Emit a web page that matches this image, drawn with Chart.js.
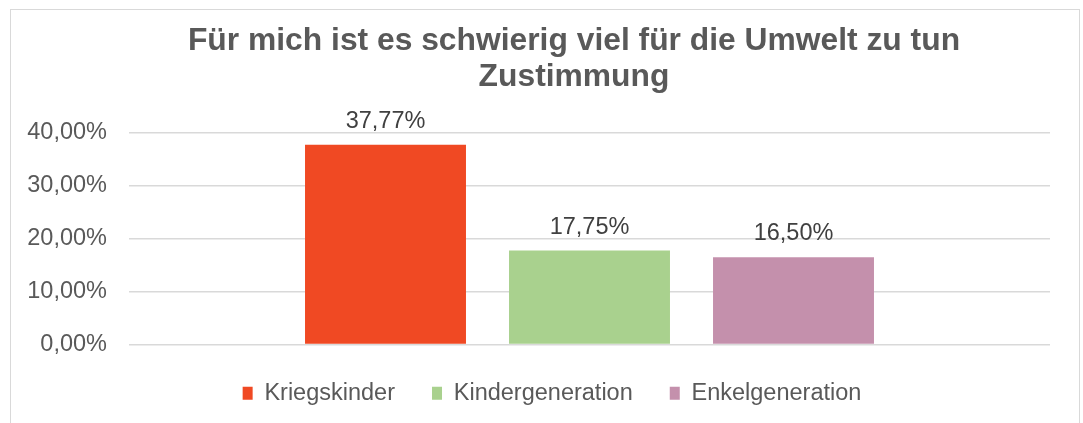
<!DOCTYPE html>
<html>
<head>
<meta charset="utf-8">
<script src="https://cdn.jsdelivr.net/npm/chart.js@4"></script>
<style>
  body { margin: 0; background: #fff; }
  #wrap { position: absolute; left: 0; top: 0; width: 1083px; height: 423px; overflow: hidden; }
  #frame { position: absolute; left: 10px; top: 9px; width: 1068px; height: 460px; border: 1px solid #d9d9d9; }
  canvas { position: absolute; left: 0; top: 0; }
</style>
</head>
<body>
<div id="wrap">
  <div id="frame"></div>
  <canvas id="chart" width="1083" height="423"></canvas>
</div>
<script>
// chart data
const categories = ['Zustimmung'];
const seriesNames = ['Kriegskinder', 'Kindergeneration', 'Enkelgeneration'];
const kriegskinder = [37.77];
const kindergeneration = [17.75];
const enkelgeneration = [16.50];
const yTickValues = [0, 10, 20, 30, 40];
const titleLines = ['Für mich ist es schwierig viel für die Umwelt zu tun', 'Zustimmung'];

const FONT = '"Liberation Sans", Arial, sans-serif';

// German style percent, e.g. 37,77%
function formatPercent(v) {
  return v.toFixed(2).replace('.', ',') + '%';
}

// value labels above the bars
const barLabels = {
  id: 'barLabels',
  afterDatasetsDraw(chart) {
    const ctx = chart.ctx;
    ctx.save();
    ctx.font = '23.5px ' + FONT;
    ctx.fillStyle = '#404040';
    ctx.textAlign = 'center';
    ctx.textBaseline = 'alphabetic';
    chart.data.datasets.forEach((ds, i) => {
      chart.getDatasetMeta(i).data.forEach((bar, j) => {
        ctx.fillText(formatPercent(ds.data[j]), bar.x, bar.y - 17);
      });
    });
    ctx.restore();
  }
};

// title and legend are not centred on the same spot as the plot
const blockShift = {
  id: 'blockShift',
  afterLayout(chart) {
    chart.titleBlock.left += 39;
    chart.titleBlock.right += 39;
    chart.legend.left += 17;
    chart.legend.right += 17;
  }
};

const ctx = document.getElementById('chart').getContext('2d');

new Chart(ctx, {
  type: 'bar',
  data: {
    labels: categories,
    datasets: [
      { label: seriesNames[0], data: kriegskinder, backgroundColor: '#F04923' },
      { label: seriesNames[1], data: kindergeneration, backgroundColor: '#A9D18E' },
      { label: seriesNames[2], data: enkelgeneration, backgroundColor: '#C490AC' }
    ]
  },
  options: {
    responsive: false,
    animation: false,
    categoryPercentage: 0.6645,
    barPercentage: 0.789,
    layout: {
      padding: { left: 20, right: 33, top: 0, bottom: 8 }
    },
    scales: {
      x: { display: false },
      y: {
        min: 0,
        max: 40,
        afterFit: scale => { scale.width = 109; },
        afterBuildTicks: scale => { scale.ticks = yTickValues.map(v => ({ value: v })); },
        border: { display: false },
        grid: { color: '#d9d9d9', lineWidth: 1.5, drawTicks: false },
        ticks: {
          padding: 22,
          color: '#595959',
          font: { family: FONT, size: 23.5 },
          callback: v => formatPercent(v)
        }
      }
    },
    plugins: {
      tooltip: { enabled: false },
      title: {
        display: true,
        text: titleLines,
        color: '#595959',
        font: { family: FONT, size: 31.8, weight: 'bold', lineHeight: 1.13 },
        padding: { top: 23, bottom: 38 }
      },
      legend: {
        position: 'bottom',
        labels: {
          boxWidth: 10,
          boxHeight: 13,
          padding: 37,
          color: '#595959',
          font: { family: FONT, size: 23.5 }
        }
      }
    }
  },
  plugins: [barLabels, blockShift]
});
</script>
</body>
</html>
